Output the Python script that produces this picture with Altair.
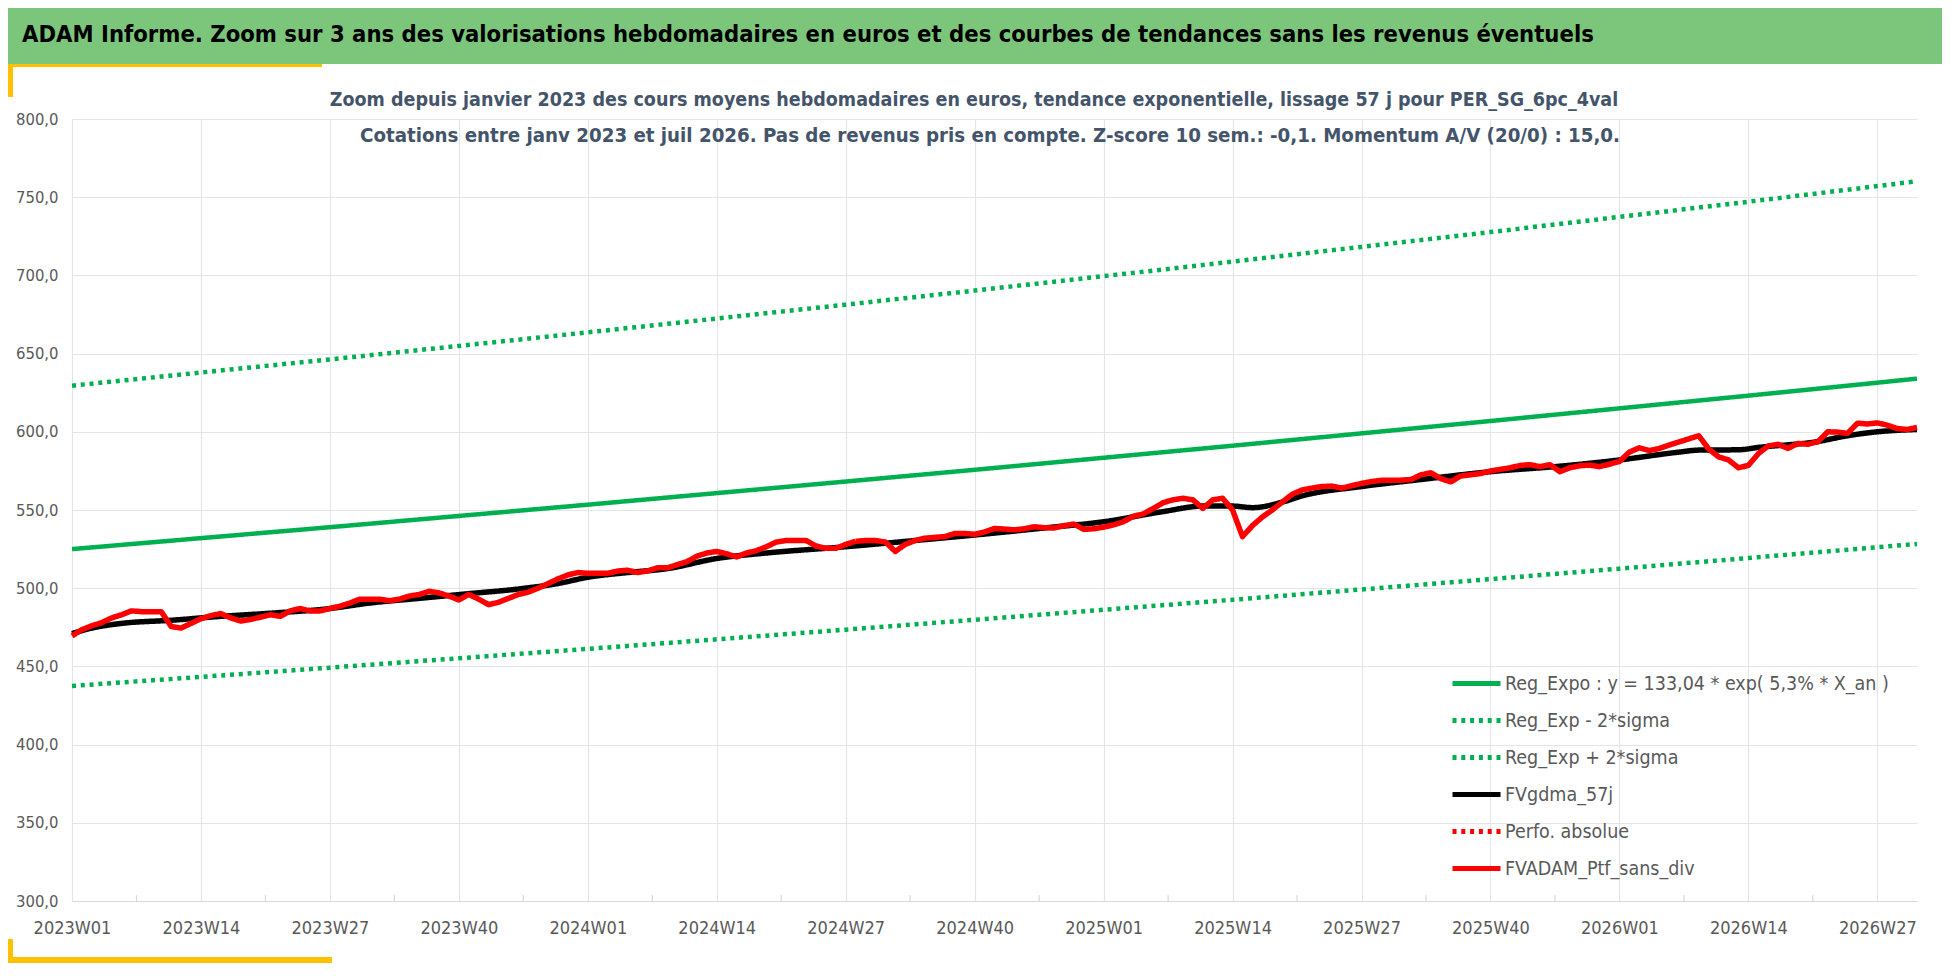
import json
import altair as alt
import pandas as pd

FONT = "Liberation Sans Narrow, DejaVu Sans Condensed, Roboto, sans-serif"

# ---------------- data ----------------
weeks = [f"{2023 + k // 52}W{k % 52 + 1:02d}" for k in range(187)]
tick_idx = [0, 13, 26, 39, 52, 65, 78, 91, 104, 117, 130, 143, 156, 169, 182]
tick_labels = ["2023W01", "2023W14", "2023W27", "2023W40", "2024W01", "2024W14",
               "2024W27", "2024W40", "2025W01", "2025W14", "2025W27", "2025W40",
               "2026W01", "2026W14", "2026W27"]
minor_idx = [6.5, 19.5, 32.5, 45.5, 58.5, 71.5, 84.5, 97.5, 110.5, 123.5,
             136.5, 149.5, 162.5, 175.5]

series_names = ["Reg_Expo : y = 133,04 * exp( 5,3% *  X_an )", "Reg_Exp - 2*sigma",
                "Reg_Exp + 2*sigma", "FVgdma_57j", "Perfo. absolue", "FVADAM_Ptf_sans_div"]
series_colors = ["#00B050", "#00B050", "#00B050", "#000000", "#FF0000", "#FF0000"]
series_dash = [[1, 0], [4, 4.8], [4, 4.8], [1, 0], [4, 4.8], [1, 0]]

red_values = [
    469.5, 473.5, 476.0, 478.0, 481.0, 483.0, 485.5, 485.0, 485.0, 485.0,
    475.5, 474.5, 477.5, 480.5, 482.5, 483.8, 481.0, 479.0, 480.0, 481.5,
    483.0, 482.0, 485.5, 487.0, 485.5, 485.5, 487.0, 488.5, 490.5, 493.0,
    493.0, 493.0, 492.0, 493.0, 495.0, 496.0, 498.0, 497.0, 495.0, 492.5,
    496.0, 493.0, 489.5, 491.0, 493.5, 496.0, 497.5, 500.0, 503.0, 506.0,
    508.5, 510.0, 509.5, 509.5, 509.5, 511.0, 511.5, 510.0, 511.0, 513.0,
    513.0, 515.0, 517.0, 520.5, 522.5, 523.5, 522.0, 520.0, 522.5, 524.0,
    526.5, 529.5, 530.5, 530.5, 530.5, 527.0, 525.5, 525.5, 528.0, 530.0,
    530.5, 530.5, 529.5, 523.5, 528.0, 530.5, 532.0, 532.5, 533.0, 535.0,
    535.0, 534.5, 536.0, 538.2, 537.8, 537.3, 538.0, 539.3, 538.7, 538.5,
    540.0, 541.0, 537.6, 538.0, 539.0, 540.5, 542.5, 546.0, 547.5, 551.0,
    554.7, 556.5, 557.5, 556.5, 551.0, 556.5, 557.5, 550.0, 533.0, 540.0,
    545.5, 550.0, 555.0, 560.0, 562.8, 564.0, 565.0, 565.3, 564.0, 565.5,
    567.0, 568.2, 569.0, 569.1, 569.1, 569.5, 572.5, 573.8, 570.0, 568.0,
    571.7, 572.5, 573.3, 575.0, 576.0, 577.0, 578.5, 579.0, 577.7, 579.0,
    574.5, 577.0, 578.3, 578.7, 577.7, 579.3, 581.0, 587.0, 589.8, 588.0,
    589.3, 591.5, 593.5, 595.5, 597.5, 589.0, 584.0, 582.0, 577.0, 578.5,
    586.0, 591.0, 592.0, 589.4, 592.6, 592.0, 593.6, 600.0, 599.8, 599.0,
    605.5, 605.0, 605.7, 604.3, 602.1, 601.5, 602.8,
]

black_idx = [0, 2, 5, 10, 15, 20, 26, 30, 35, 40, 45, 49, 52, 56, 60, 65, 70, 78, 85, 91,
             98, 104, 110, 114, 117, 119, 122, 124, 130, 136, 143, 150, 156, 162, 164,
             168, 170, 176, 179, 182, 186]
black_values = [471, 474.5, 477.5, 479.5, 482, 484, 487, 490.5, 493.5, 496.5,
                499.5, 503, 507, 510, 512.5, 519, 522.5, 526.5, 530.5, 534,
                538.5, 542.5, 549, 552.5, 552.5, 551.5, 555, 559, 565, 569.5,
                574.5, 578, 582, 587, 588.3, 588.5, 590, 593.8, 597.5, 600, 601.5]

trend_idx = [0, 13, 26, 39, 52, 65, 78, 91, 104, 117, 130, 143, 156, 169, 182, 186]
expo_values = [525.0, 532.0, 539.0, 546.2, 553.4, 560.8, 568.2, 575.7, 583.4, 591.1,
               599.0, 606.9, 615.0, 623.1, 631.4, 634.0]
upper_values = [629.5, 637.9, 646.3, 654.9, 663.6, 672.4, 681.3, 690.3, 699.5, 708.8,
                718.2, 727.7, 737.4, 747.1, 757.1, 760.2]
lower_values = [437.5, 443.3, 449.2, 455.2, 461.2, 467.3, 473.5, 479.8, 486.2, 492.6,
                499.2, 505.8, 512.5, 519.3, 526.2, 528.3]

title_text = ("ADAM Informe. Zoom sur 3 ans des valorisations hebdomadaires en euros "
              "et des courbes de tendances sans les revenus éventuels")
sub1 = ("Zoom depuis janvier 2023 des cours moyens hebdomadaires  en euros, tendance "
        "exponentielle, lissage 57 j pour PER_SG_6pc_4val")
sub2 = ("Cotations entre janv 2023 et juil 2026. Pas de revenus pris en compte. "
        "Z-score 10 sem.: -0,1. Momentum A/V (20/0) : 15,0.")

# ---------------- tables ----------------
trend_rows = []
for name, vals in [(series_names[0], expo_values), (series_names[1], lower_values),
                   (series_names[2], upper_values)]:
    for i, v in zip(trend_idx, vals):
        trend_rows.append({"i": i, "v": v, "series": name})
trend_df = pd.DataFrame(trend_rows)
black_df = pd.DataFrame({"i": black_idx, "v": black_values, "series": series_names[3]})
red_df = pd.DataFrame({"i": list(range(len(red_values))), "v": red_values,
                       "week": weeks[:len(red_values)], "series": series_names[5]})
minor_df = pd.DataFrame({"i": minor_idx})

W, H = 1845, 782

x_label_expr = json.dumps(tick_labels) + "[round(datum.value / 13)]"

x_enc = alt.X("i:Q", scale=alt.Scale(domain=[0, 186], nice=False, zero=False),
              axis=alt.Axis(values=tick_idx, labelExpr=x_label_expr, title=None,
                            ticks=False, domainColor="#D9D9D9", domainWidth=1.2,
                            labelPadding=18, labelFontSize=18, labelColor="#595959",
                            labelFont=FONT, labelFlush=False, labelOverlap=False,
                            gridColor="#E3E5EA", gridWidth=1.2))
y_enc = alt.Y("v:Q", scale=alt.Scale(domain=[300, 800], nice=False, zero=False),
              axis=alt.Axis(values=list(range(300, 801, 50)),
                            labelExpr="replace(format(datum.value, '.1f'), '.', ',')",
                            title=None, domain=False, ticks=False, labelPadding=14,
                            labelFontSize=16.5, labelColor="#595959", labelFont=FONT,
                            gridColor="#E3E5EA", gridWidth=1.2))

legend = alt.Legend(orient="none", legendX=1378, legendY=538, title=None,
                    symbolType="stroke", symbolSize=2304, symbolStrokeWidth=5,
                    labelFontSize=19.5, labelFont=FONT, labelColor="#595959",
                    rowPadding=0, labelOffset=2, labelLimit=700)
color_enc = alt.Color("series:N", scale=alt.Scale(domain=series_names, range=series_colors),
                      legend=legend)
dash_enc = alt.StrokeDash("series:N", scale=alt.Scale(domain=series_names, range=series_dash),
                          legend=legend)

blank = alt.Data(values=[{}])

header = alt.Chart(blank).mark_rect(color="#7CC67C").encode(
    x=alt.value(-64), x2=alt.value(W + 25), y=alt.value(-111), y2=alt.value(-55))
yellow_top = alt.Chart(blank).mark_rect(color="#FFC000").encode(
    x=alt.value(-64), x2=alt.value(250), y=alt.value(-55), y2=alt.value(-52))
yellow_left_top = alt.Chart(blank).mark_rect(color="#FFC000").encode(
    x=alt.value(-64), x2=alt.value(-59), y=alt.value(-55), y2=alt.value(-22))
yellow_left_bot = alt.Chart(blank).mark_rect(color="#FFC000").encode(
    x=alt.value(-64), x2=alt.value(-59), y=alt.value(H + 38), y2=alt.value(H + 62))
yellow_bot = alt.Chart(blank).mark_rect(color="#FFC000").encode(
    x=alt.value(-64), x2=alt.value(260), y=alt.value(H + 56), y2=alt.value(H + 62))

title_mark = alt.Chart(blank).mark_text(
    text=title_text, font=FONT, fontSize=23.6, fontWeight="bold", color="#000000",
    align="left", baseline="middle").encode(x=alt.value(-50), y=alt.value(-84))
sub1_mark = alt.Chart(blank).mark_text(
    text=sub1, font=FONT, fontSize=19.5, fontWeight="bold", color="#44546A",
    align="center", baseline="middle").encode(x=alt.value(902), y=alt.value(-19))
sub2_mark = alt.Chart(blank).mark_text(
    text=sub2, font=FONT, fontSize=20.3, fontWeight="bold", color="#44546A",
    align="center", baseline="middle").encode(x=alt.value(918), y=alt.value(17))

minor_ticks = alt.Chart(minor_df).mark_rule(color="#D9D9D9", strokeWidth=1.2).encode(
    x=alt.X("i:Q"), y=alt.value(H), y2=alt.value(H - 6))

trend = alt.Chart(trend_df).mark_line(strokeWidth=4.5).encode(
    x=x_enc, y=y_enc, color=color_enc, strokeDash=dash_enc, order="i:Q")
black = alt.Chart(black_df).mark_line(strokeWidth=5.5, interpolate="monotone").encode(
    x=x_enc, y=y_enc, color=color_enc, strokeDash=dash_enc, order="i:Q")
red = alt.Chart(red_df).mark_line(strokeWidth=5.5, strokeJoin="round").encode(
    x=x_enc, y=y_enc, color=color_enc, strokeDash=dash_enc, order="i:Q")

chart = alt.layer(
    header, yellow_top, yellow_left_top, yellow_left_bot, yellow_bot,
    minor_ticks, trend, black, red, title_mark, sub1_mark, sub2_mark,
).properties(
    width=W, height=H,
    padding={"left": 64, "top": 111, "right": 25, "bottom": 62},
    autosize=alt.AutoSizeParams(type="none"),
    background="white",
).configure_view(stroke=None)

chart.save("out.html", embed_options={"renderer": "svg", "actions": False})
